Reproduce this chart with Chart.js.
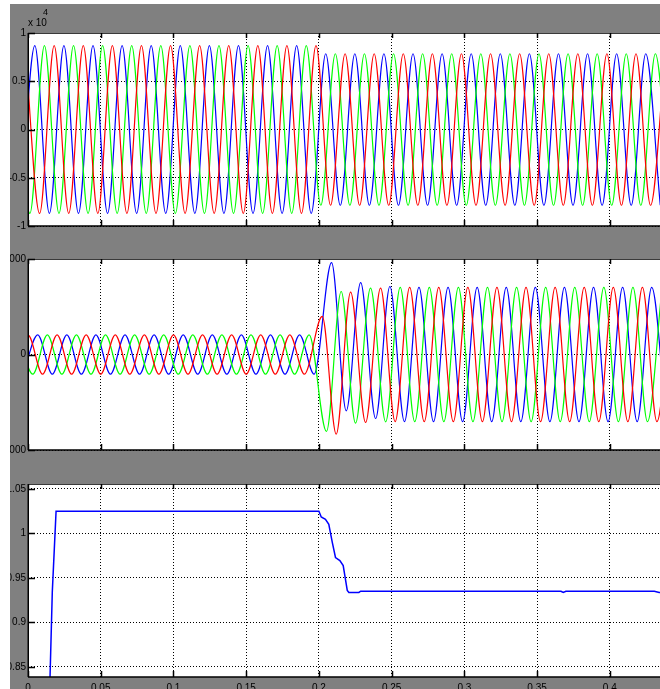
<!DOCTYPE html>
<html>
<head>
<meta charset="utf-8">
<script src="https://cdn.jsdelivr.net/npm/chart.js@4.4.0/dist/chart.umd.min.js"></script>
<style>
html,body{margin:0;padding:0;background:#fff;width:660px;height:689px;overflow:hidden;}
canvas{position:absolute;left:0;display:block;}
</style>
</head>
<body>
<canvas id="cV" width="660" height="242" style="top:0px;width:660px;height:242px"></canvas>
<canvas id="cI" width="660" height="225" style="top:242px;width:660px;height:225px"></canvas>
<canvas id="cM" width="660" height="222" style="top:467px;width:660px;height:222px"></canvas>
<script>
// ---------- tick values and labels ----------
const timeTicks = [0, 0.05, 0.1, 0.15, 0.2, 0.25, 0.3, 0.35, 0.4];
const timeTickLabels = ['0','0.05','0.1','0.15','0.2','0.25','0.3','0.35','0.4'];
const voltTicks = [-10000, -5000, 0, 5000, 10000];
const voltTickLabels = ['-1','-0.5','0','0.5','1'];
const currTicks = [-5000, 0, 5000];
const currTickLabels = ['-5000','0','5000'];
const magTicks = [0.85, 0.9, 0.95, 1, 1.05];
const magTickLabels = ['0.85','0.9','0.95','1','1.05'];

// ---------- panel 1: three-phase voltage (peaks and troughs) ----------
const voltBlueT = [-0.0053,
 0.0047,0.0147,0.0247,0.0347,0.0447,0.0547,0.0647,0.0747,0.0847,0.0947,
 0.1047,0.1147,0.1247,0.1347,0.1447,0.1547,0.1647,0.1747,0.1847,0.1947,
 0.2047,0.2147,0.2247,0.2347,0.2447,0.2547,0.2647,0.2747,0.2847,0.2947,0.3047,0.3147,
 0.3247,0.3347,0.3447,0.3547,0.3647,0.3747,0.3847,0.3947,0.4047,0.4147,0.4247,0.4347];
const voltBlueV = [-8700,
 8700,-8700,8700,-8700,8700,-8700,8700,-8700,8700,-8700,
 8700,-8700,8700,-8700,8700,-8700,8700,-8700,8700,-8700,
 7850,-7850,7850,-7850,7850,-7850,7850,-7850,7850,-7850,7850,-7850,
 7850,-7850,7850,-7850,7850,-7850,7850,-7850,7850,-7850,7850,-7850];

const voltGreenT = [-0.0087,
 0.0013,0.0113,0.0213,0.0313,0.0413,0.0513,0.0613,0.0713,0.0813,0.0913,
 0.1013,0.1113,0.1213,0.1313,0.1413,0.1513,0.1613,0.1713,0.1813,0.1913,
 0.2013,0.2113,0.2213,0.2313,0.2413,0.2513,0.2613,0.2713,0.2813,0.2913,0.3013,0.3113,
 0.3213,0.3313,0.3413,0.3513,0.3613,0.3713,0.3813,0.3913,0.4013,0.4113,0.4213,0.4313,
 0.4413];
const voltGreenV = [8700,
 -8700,8700,-8700,8700,-8700,8700,-8700,8700,-8700,8700,
 -8700,8700,-8700,8700,-8700,8700,-8700,8700,-8700,8700,
 -7850,7850,-7850,7850,-7850,7850,-7850,7850,-7850,7850,-7850,7850,
 -7850,7850,-7850,7850,-7850,7850,-7850,7850,-7850,7850,-7850,7850,
 -7850];

const voltRedT = [-0.0020,
 0.0080,0.0180,0.0280,0.0380,0.0480,0.0580,0.0680,0.0780,0.0880,0.0980,
 0.1080,0.1180,0.1280,0.1380,0.1480,0.1580,0.1680,0.1780,0.1880,0.1980,
 0.2080,0.2180,0.2280,0.2380,0.2480,0.2580,0.2680,0.2780,0.2880,0.2980,0.3080,0.3180,
 0.3280,0.3380,0.3480,0.3580,0.3680,0.3780,0.3880,0.3980,0.4080,0.4180,0.4280,0.4380];
const voltRedV = [8700,
 -8700,8700,-8700,8700,-8700,8700,-8700,8700,-8700,8700,
 -8700,8700,-8700,8700,-8700,8700,-8700,8700,-8700,8700,
 -7850,7850,-7850,7850,-7850,7850,-7850,7850,-7850,7850,-7850,7850,
 -7850,7850,-7850,7850,-7850,7850,-7850,7850,-7850,7850,-7850,7850];

// ---------- panel 2: three-phase current ----------
const currRedT = [-0.0100,
 0.0000,0.0100,0.0200,0.0300,0.0400,0.0500,0.0600,0.0700,0.0800,0.0900,
 0.1000,0.1100,0.1200,0.1300,0.1400,0.1500,0.1600,0.1700,0.1800,0.1900,
 0.2023,0.2119,0.2218,0.2321,0.2424,
 0.2524,0.2624,0.2724,0.2824,0.2924,0.3024,0.3124,0.3224,0.3324,0.3424,
 0.3524,0.3624,0.3724,0.3824,0.3924,0.4024,0.4124,0.4224,0.4324,0.4424];
const currRedV = [-1030,
 1030,-1030,1030,-1030,1030,-1030,1030,-1030,1030,-1030,
 1030,-1030,1030,-1030,1030,-1030,1030,-1030,1030,-1030,
 1997,-4167,3264,-3559,3472,
 -3515,3515,-3515,3515,-3515,3515,-3515,3515,-3515,3515,
 -3515,3515,-3515,3515,-3515,3515,-3515,3515,-3515,3515];

const currBlueT = [-0.0033,
 0.0067,0.0167,0.0267,0.0367,0.0467,0.0567,0.0667,0.0767,0.0867,0.0967,
 0.1067,0.1167,0.1267,0.1367,0.1467,0.1567,0.1667,0.1767,0.1867,0.1967,
 0.2087,0.2188,0.2287,0.2390,0.2488,
 0.2588,0.2688,0.2788,0.2888,0.2988,0.3088,0.3188,0.3288,0.3388,0.3488,
 0.3588,0.3688,0.3788,0.3888,0.3988,0.4088,0.4188,0.4288,0.4388];
const currBlueV = [-1030,
 1030,-1030,1030,-1030,1030,-1030,1030,-1030,1030,-1030,
 1030,-1030,1030,-1030,1030,-1030,1030,-1030,1030,-1030,
 4809,-2951,3767,-3351,3559,
 -3515,3515,-3515,3515,-3515,3515,-3515,3515,-3515,3515,
 -3515,3515,-3515,3515,-3515,3515,-3515,3515,-3515];

const currGreenT = [-0.0067,
 0.0033,0.0133,0.0233,0.0333,0.0433,0.0533,0.0633,0.0733,0.0833,0.0933,
 0.1033,0.1133,0.1233,0.1333,0.1433,0.1533,0.1633,0.1733,0.1833,0.1933,
 0.2052,0.2153,0.2252,0.2355,0.2459,
 0.2559,0.2659,0.2759,0.2859,0.2959,0.3059,0.3159,0.3259,0.3359,0.3459,
 0.3559,0.3659,0.3759,0.3859,0.3959,0.4059,0.4159,0.4259,0.4359];
const currGreenV = [1030,
 -1030,1030,-1030,1030,-1030,1030,-1030,1030,-1030,1030,
 -1030,1030,-1030,1030,-1030,1030,-1030,1030,-1030,1030,
 -4028,3299,-3594,3472,-3524,
 3515,-3515,3515,-3515,3515,-3515,3515,-3515,3515,-3515,
 3515,-3515,3515,-3515,3515,-3515,3515,-3515,3515];

// ---------- panel 3: voltage magnitude (p.u.) ----------
const magT = [0.0000,0.0150,0.0167,0.0181,0.0193,0.2000,0.2016,0.2045,0.2068,0.2092,0.2114,0.2144,
 0.2167,0.2195,0.2206,0.2275,0.2287,0.3664,0.3680,0.3698,0.4306,0.4339,0.4360];
const magV = [0.130,0.830,0.934,0.983,1.025,1.025,1.0185,1.016,1.0103,0.990,0.973,0.9696,
 0.964,0.936,0.9337,0.9337,0.9351,0.9351,0.9337,0.9351,0.9351,0.9337,0.9337];

// ---------- helpers ----------
const pts = (T, V) => T.map((t, i) => ({x: t, y: V[i]}));
const FAMILY = '"Liberation Sans Narrow","Arial Narrow","Liberation Sans",Arial,sans-serif';
const FONT = {family: FAMILY, size: 10};

const scopeFrame = {
  id: 'scopeFrame',
  beforeDraw(chart) {
    const {ctx, chartArea: a} = chart;
    ctx.save();
    ctx.fillStyle = '#808080';
    ctx.fillRect(0, 0, chart.width, chart.height);
    ctx.fillStyle = '#ffffff';
    ctx.fillRect(a.left, a.top, a.right - a.left, a.bottom - a.top);
    ctx.restore();
  },
  afterDatasetsDraw(chart) {
    const {ctx, chartArea: a} = chart;
    const xs = chart.scales.x, ys = chart.scales.y;
    ctx.save();
    ctx.strokeStyle = '#3a3a3a';
    ctx.lineWidth = 1;
    ctx.beginPath();
    ctx.moveTo(a.left, a.top + 0.5); ctx.lineTo(a.right, a.top + 0.5);
    ctx.stroke();
    ctx.strokeStyle = '#000';
    ctx.lineWidth = 1.5;
    ctx.beginPath();
    ctx.moveTo(a.left + 0.25, a.top); ctx.lineTo(a.left + 0.25, a.bottom);
    ctx.moveTo(a.left, a.bottom); ctx.lineTo(a.right, a.bottom);
    xs.ticks.forEach(t => {
      const px = Math.round(xs.getPixelForValue(t.value)) + 0.5;
      ctx.moveTo(px, a.bottom); ctx.lineTo(px, a.bottom - 6);
      ctx.moveTo(px, a.top); ctx.lineTo(px, a.top + 5);
    });
    ys.ticks.forEach(t => {
      const py = Math.round(ys.getPixelForValue(t.value)) + 0.5;
      ctx.moveTo(a.left, py); ctx.lineTo(a.left + 7, py);
    });
    ctx.stroke();
    ctx.restore();
  },
  afterDraw(chart) {
    const ctx = chart.ctx;
    ctx.save();
    ctx.fillStyle = '#ffffff';
    ctx.fillRect(0, 0, 10, chart.height);
    if (chart.canvas.id === 'cV') {
      ctx.fillRect(0, 0, chart.width, 4);
      ctx.fillStyle = '#000';
      ctx.font = '10px ' + FAMILY;
      ctx.textBaseline = 'alphabetic';
      ctx.fillText('x 10', 28, 26);
      ctx.font = '9px ' + FAMILY;
      ctx.fillText('4', 43, 15);
    }
    ctx.restore();
  }
};

function makePanel(id, datasets, yMin, yMax, yTickVals, yTickLabs, padTop, xHeight, showX) {
  return new Chart(document.getElementById(id), {
    type: 'line',
    data: {datasets: datasets},
    options: {
      animation: false,
      responsive: false,
      devicePixelRatio: 1,
      events: [],
      layout: {padding: {top: padTop, left: 0, right: 0, bottom: 0}},
      plugins: {legend: {display: false}, tooltip: {enabled: false}},
      elements: {point: {radius: 0}, line: {borderWidth: 1}},
      scales: {
        x: {
          type: 'linear', min: 0, max: 0.4345,
          afterBuildTicks: s => { s.ticks = timeTicks.map(v => ({value: v})); },
          afterFit: s => { s.height = xHeight; },
          grid: {color: '#000', lineWidth: 1, drawTicks: false},
          border: {display: false, dash: [1, 2]},
          ticks: {display: showX, padding: 5, color: '#000', font: FONT, maxRotation: 0, autoSkip: false,
                  callback: (v, i) => timeTickLabels[i]}
        },
        y: {
          type: 'linear', min: yMin, max: yMax,
          afterBuildTicks: s => { s.ticks = yTickVals.map(v => ({value: v})); },
          afterFit: s => { s.width = 28; },
          grid: {color: '#000', lineWidth: 1, drawTicks: false},
          border: {display: false, dash: [1, 2]},
          ticks: {padding: 2, color: '#000', font: FONT, autoSkip: false,
                  callback: (v, i) => yTickLabs[i]}
        }
      }
    },
    plugins: [scopeFrame]
  });
}

const lineOpts = (data, color, mono, w) => ({
  data: data, borderColor: color, borderWidth: w, pointRadius: 0, fill: false,
  cubicInterpolationMode: mono ? 'monotone' : 'default', tension: 0
});

makePanel('cV', [
  lineOpts(pts(voltRedT, voltRedV), '#ff0000', true, 1.2),
  lineOpts(pts(voltGreenT, voltGreenV), '#00ff00', true, 1.2),
  lineOpts(pts(voltBlueT, voltBlueV), '#0000ff', true, 1.2)
], -10000, 10000, voltTicks, voltTickLabels, 33, 16, false);

makePanel('cI', [
  lineOpts(pts(currRedT, currRedV), '#ff0000', true, 1.2),
  lineOpts(pts(currGreenT, currGreenV), '#00ff00', true, 1.2),
  lineOpts(pts(currBlueT, currBlueV), '#0000ff', true, 1.2)
], -5000, 5000, currTicks, currTickLabels, 17, 17, false);

makePanel('cM', [
  lineOpts(pts(magT, magV), '#0000ff', false, 1.5)
], 0.8387, 1.0556, magTicks, magTickLabels, 17, 12, true);
</script>
</body>
</html>
